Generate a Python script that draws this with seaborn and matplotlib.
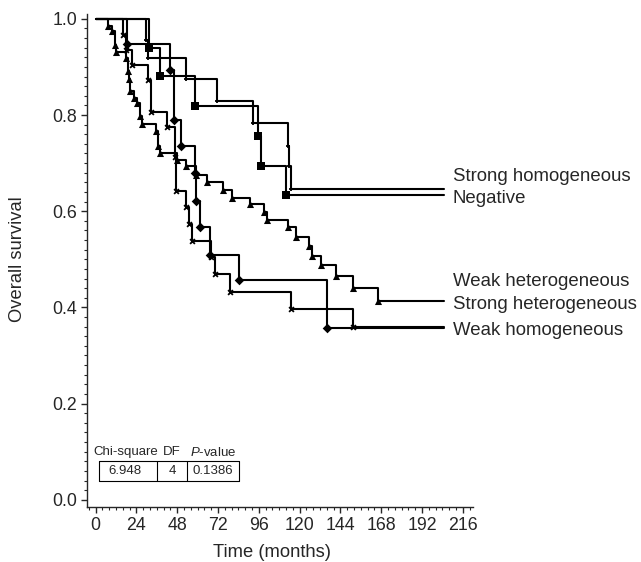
import numpy as np
import pandas as pd
import matplotlib
matplotlib.use("Agg")
import matplotlib.pyplot as plt
from matplotlib.ticker import MultipleLocator, FormatStrFormatter
import seaborn as sns

# survival step points (months, survival after the drop)
neg_t = [31.4, 37.7, 58.3, 95.5, 97.5, 112.2]
neg_s = [0.939, 0.882, 0.819, 0.757, 0.695, 0.634]

shom_t = [29.8, 30.8, 53.0, 71.4, 92.6, 113.2, 113.8, 115.2]
shom_s = [0.956, 0.918, 0.874, 0.829, 0.783, 0.736, 0.693, 0.646]

whet_t = [7.2, 9.8, 11.2, 12.2, 18.0, 19.0, 19.6, 20.4, 22.7, 24.2, 26.2, 27.4,
          35.5, 36.7, 37.7, 47.8, 53.0, 59.3, 65.5, 74.9, 80.5, 91.1, 98.9,
          100.8, 113.2, 118.1, 125.4, 127.6, 132.8, 141.7, 151.4, 166.2]
whet_s = [0.985, 0.975, 0.946, 0.930, 0.919, 0.891, 0.875, 0.850, 0.836, 0.825,
          0.798, 0.782, 0.766, 0.735, 0.721, 0.707, 0.693, 0.676, 0.661, 0.644,
          0.628, 0.615, 0.598, 0.582, 0.567, 0.546, 0.527, 0.507, 0.489, 0.466,
          0.440, 0.414]

shet_t = [16.1, 17.7, 21.6, 31.1, 32.4, 42.0, 46.5, 47.5, 53.0, 54.9, 56.9,
          68.0, 70.0, 79.3, 115.2, 151.4]
shet_s = [0.967, 0.936, 0.904, 0.872, 0.807, 0.776, 0.713, 0.643, 0.608, 0.574,
          0.539, 0.505, 0.470, 0.432, 0.396, 0.360]

whom_t = [18.6, 44.0, 45.9, 50.4, 58.3, 59.3, 61.2, 67.5, 84.3, 136.1]
whom_s = [0.947, 0.894, 0.789, 0.736, 0.679, 0.622, 0.567, 0.509, 0.456, 0.357]

follow_up_end = 205
groups = ["Negative", "Strong homogeneous", "Weak heterogeneous",
          "Strong heterogeneous", "Weak homogeneous"]
curve_t = [neg_t, shom_t, whet_t, shet_t, whom_t]
curve_s = [neg_s, shom_s, whet_s, shet_s, whom_s]
marker_of = {"Negative": "s", "Strong homogeneous": "+", "Weak heterogeneous": "^",
             "Strong heterogeneous": "x", "Weak homogeneous": "D"}
msize = {"Negative": 26, "Strong homogeneous": 12, "Weak heterogeneous": 26,
         "Strong heterogeneous": 12, "Weak homogeneous": 24}

label_y = {"Strong homogeneous": 0.673, "Negative": 0.626, "Weak heterogeneous": 0.453,
           "Strong heterogeneous": 0.407, "Weak homogeneous": 0.353}

table_head = ["Chi-square", "DF", "$P$-value"]
table_vals = ["6.948", "4", "0.1386"]

sns.set_style("ticks")
plt.rcParams["font.family"] = ["Liberation Sans", "DejaVu Sans"]
plt.rcParams["mathtext.fontset"] = "custom"
plt.rcParams["mathtext.rm"] = "Liberation Sans"
plt.rcParams["mathtext.it"] = "Liberation Sans:italic"

fig = plt.figure(figsize=(6.41, 5.62), dpi=100)
ax = fig.add_axes([87 / 641, 1 - 507 / 562, (473 - 87) / 641, (507 - 14) / 562])

for g, t, s in zip(groups, curve_t, curve_s):
    steps = pd.DataFrame({"month": [0] + t + [follow_up_end],
                          "surv": [1.0] + s + [s[-1]]})
    sns.lineplot(data=steps, x="month", y="surv", drawstyle="steps-post",
                 color="black", lw=1.5, estimator=None, ax=ax)
    ev = pd.DataFrame({"month": t, "surv": s})
    lw_m = 1.3 if marker_of[g] in ("x", "+") else 0
    sns.scatterplot(data=ev, x="month", y="surv", marker=marker_of[g], s=msize[g],
                    color="black", edgecolor="black", linewidth=lw_m, ax=ax, zorder=3)
    ax.text(210, label_y[g], g, ha="left", va="center", fontsize=13.4)

# chi-square box
x0, x1, x2, x3 = 1.8, 35.9, 54.1, 84.1
yb, yt = 0.040, 0.081
for xa in (x0, x1, x2, x3):
    ax.plot([xa, xa], [yb, yt], color="black", lw=0.8)
ax.plot([x0, x3], [yb, yb], color="black", lw=0.8)
ax.plot([x0, x3], [yt, yt], color="black", lw=0.8)
for xc, h, v in zip([17.6, 45.0, 69.0], table_head, table_vals):
    ax.text(xc, 0.099, h, ha="center", va="center", fontsize=9.5)
    ax.text(xc, 0.0605, v, ha="center", va="center", fontsize=9.5)

ax.set_xlim(-5, 222)
ax.set_ylim(-0.015, 1.01)
ax.xaxis.set_minor_locator(MultipleLocator(4))
ax.yaxis.set_major_locator(MultipleLocator(0.2))
ax.yaxis.set_minor_locator(MultipleLocator(0.02))
ax.yaxis.set_major_formatter(FormatStrFormatter("%.1f"))
ax.set_xticks(np.arange(0, 217, 24))
ax.tick_params(axis="both", which="major", direction="out", length=4, width=1,
               labelsize=12.8, pad=3)
ax.tick_params(axis="both", which="minor", direction="out", length=2, width=0.8)
for sp in ("top", "right"):
    ax.spines[sp].set_visible(False)
for sp in ("left", "bottom"):
    ax.spines[sp].set_linewidth(1.0)

ax.set_xlabel("Time (months)", fontsize=13.2)
ax.set_ylabel("Overall survival", fontsize=13.2)
ax.xaxis.set_label_coords(0.479, -0.075)
ax.yaxis.set_label_coords(-0.158, 0.503)

fig.savefig("out.png", dpi=100)
